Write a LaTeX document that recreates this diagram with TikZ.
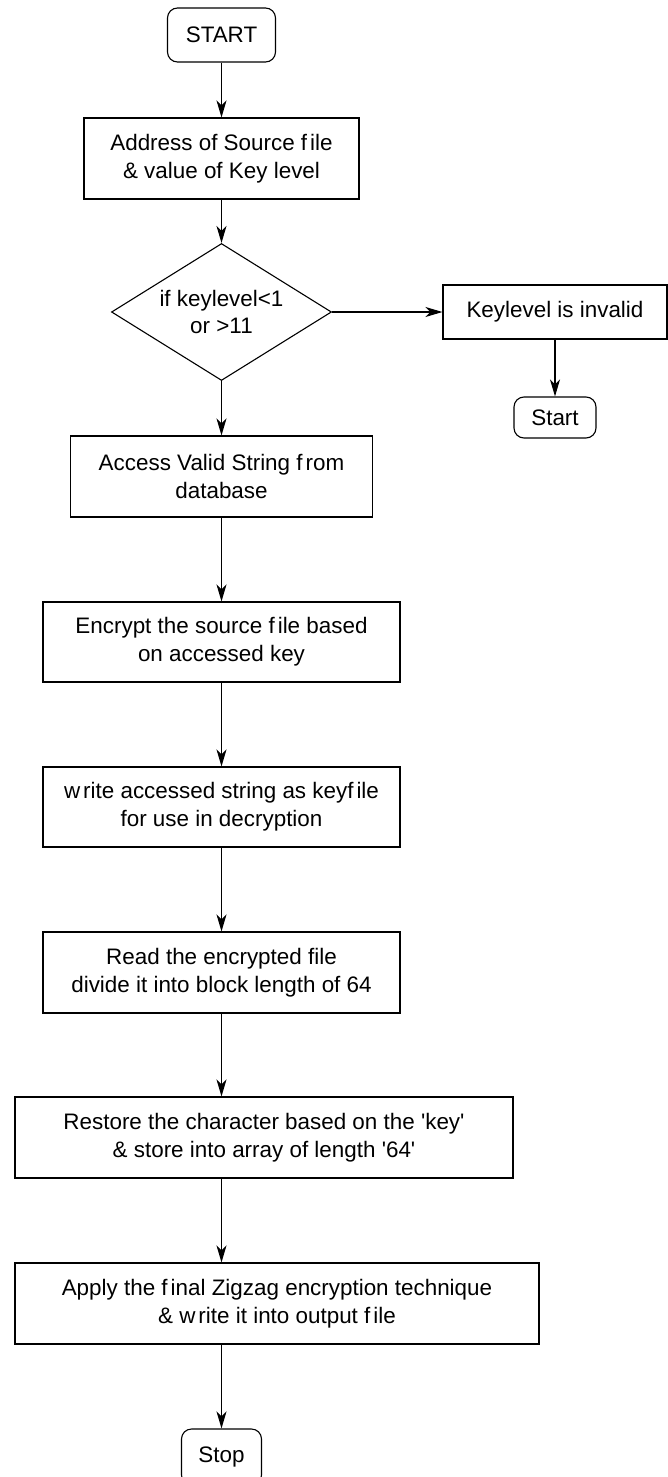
\documentclass[tikz,border=0pt]{standalone}
\usepackage{fontspec}
\newfontfamily\flowfont{Liberation Sans}
\usetikzlibrary{arrows.meta,shapes.geometric}
% small gap after f / w, as in the printed labels
\newcommand\lgap{\kern3bp}
\begin{document}
\begin{tikzpicture}[x=1bp,y=-1bp,
  font=\flowfont\fontsize{22.5}{28}\selectfont,
  line width=1.1bp,
  procbox/.style={draw, align=center, inner sep=0pt, minimum height=81bp},
  termbox/.style={draw, align=center, inner sep=0pt, rounded corners=10bp},
  decision/.style={draw, diamond, align=center, inner sep=0pt, aspect=1.6,
                   minimum width=220bp, minimum height=137bp},
  flow/.style={-{Stealth[length=17bp,width=10bp,inset=5bp]}}]
  \useasboundingbox (0,0) rectangle (668,1477);
  \clip (0,0) rectangle (668,1477);

  % main column
  \node[termbox, minimum width=108bp, minimum height=54bp] (start) at (221.5,35) {START};
  \node[procbox, minimum width=275bp] (addr) at (221.5,158.5)
    {Address of Source f\lgap ile\\\& value of Key level};
  \node[decision] (check) at (221.5,312) {if keylevel<1\\or >11};
  \node[procbox, minimum width=302bp] (access) at (221.5,476.5)
    {Access Valid String f\lgap rom\\database};
  \node[procbox, minimum width=357bp, minimum height=80bp] (encrypt) at (221.5,642)
    {Encrypt the source f\lgap ile based\\on accessed key};
  \node[procbox, minimum width=357bp, minimum height=80bp] (keyfile) at (221.5,807)
    {w\lgap rite accessed string as keyf\lgap ile\\for use in decryption};
  \node[procbox, minimum width=357bp] (read) at (221.5,972.5)
    {Read the encrypted file\\divide it into block length of 64};
  \node[procbox, minimum width=498bp] (restore) at (264,1137.5)
    {Restore the character based on the 'key'\\\& store into array of length '64'};
  \node[procbox, minimum width=524bp] (apply) at (277,1303.5)
    {Apply the f\lgap inal Zigzag encryption technique\\\& w\lgap rite it into output f\lgap ile};
  \node[termbox, minimum width=80bp, minimum height=56bp] (stop) at (221.5,1457) {Stop};

  % invalid branch
  \node[procbox, minimum width=224bp, minimum height=54bp] (invalid) at (555,312) {Keylevel is invalid};
  \node[termbox, minimum width=82bp, minimum height=41bp] (restart) at (555,417.5) {Start};

  % connectors
  \draw[flow] (start.south) -- (addr.north);
  \draw[flow] (addr.south) -- (check.north);
  \draw[flow] (check.east) -- (invalid.west);
  \draw[flow] (invalid.south) -- (restart.north);
  \draw[flow] (check.south) -- (access.north);
  \draw[flow] (access.south) -- (encrypt.north);
  \draw[flow] (encrypt.south) -- (keyfile.north);
  \draw[flow] (keyfile.south) -- (read.north);
  \draw[flow] (read.south) -- (read.south |- restore.north);
  \draw[flow] (read.south |- restore.south) -- (read.south |- apply.north);
  \draw[flow] (read.south |- apply.south) -- (stop.north);
\end{tikzpicture}
\end{document}
